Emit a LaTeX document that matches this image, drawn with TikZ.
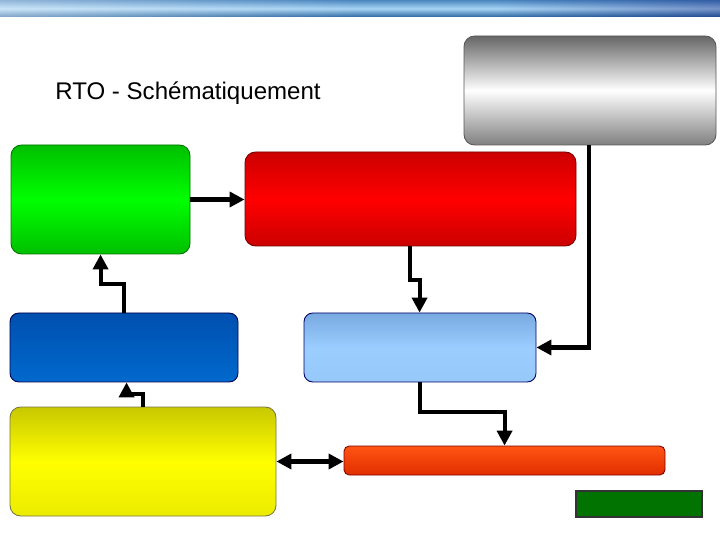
\documentclass[tikz,border=0pt]{standalone}
\usepackage{fontspec}
\setmainfont{Liberation Sans}
\usetikzlibrary{fit,calc,arrows.meta,shadings,fadings}
\definecolor{barTop}{HTML}{4A86C0}
\definecolor{barMid}{HTML}{A8D4F4}
\definecolor{barBot}{HTML}{2A66A0}
\tikzset{
  box/.style={inner sep=0pt, rounded corners=6pt, line width=0.5pt},
  arr/.style={line width=2.3pt, -{Triangle[length=8.5pt,width=8.5pt]}},
  darr/.style={line width=2.3pt, {Triangle[length=8.5pt,width=8.5pt]}-{Triangle[length=8.5pt,width=8.5pt]}},
}
\begin{document}
\begin{tikzpicture}[x=0.02cm,y=-0.02cm]
\useasboundingbox (0,0) rectangle (720,540);
% top bar
\shade[top color=barTop, bottom color=barBot, middle color=barMid] (0,0) rectangle (720,17);
\fill[white, path fading=east, fill opacity=0.4] (0,0) rectangle (360,17);
\fill[black!60!blue, path fading=west, fill opacity=0.3] (500,0) rectangle (720,17);
% title
\node[anchor=base west, inner sep=0pt, font=\fontsize{13.7pt}{16pt}\selectfont] (title) at (55,100) {RTO - Schématiquement};
% boxes
\node[box, fit={(464,36) (716,145)}, draw=black!65, top color=black!60, bottom color=black!50, middle color=white] (gray) {};
\node[box, fit={(11,145) (190,254)}, draw=green!45!black, top color=green!75!black, bottom color=green!75!black, middle color=green] (green) {};
\node[box, fit={(245,152) (576,246)}, draw=red!45!black, top color=red!80!black, bottom color=red!80!black, middle color=red] (red) {};
\node[box, rounded corners=5pt, fit={(10,313) (238,382)}, draw=blue!30!black, top color={rgb,255:red,0;green,80;blue,175}, bottom color={rgb,255:red,0;green,105;blue,205}] (blue) {};
\node[box, rounded corners=5pt, fit={(304,313) (536,382)}, draw=blue!40!black, top color={rgb,255:red,120;green,170;blue,225}, bottom color={rgb,255:red,150;green,200;blue,250}, middle color={rgb,255:red,155;green,205;blue,255}] (lblue) {};
\node[box, fit={(10,407) (276,516)}, draw=yellow!40!black, top color={rgb,255:red,200;green,200;blue,0}, bottom color={rgb,255:red,235;green,235;blue,0}, middle color=yellow] (yellow) {};
\node[box, rounded corners=3pt, fit={(344,446) (665,475)}, draw=red!50!black, top color={rgb,255:red,255;green,85;blue,20}, bottom color={rgb,255:red,225;green,45;blue,0}] (orange) {};
\node[inner sep=0pt, fit={(576,491) (702,517)}, draw=black!80, line width=0.8pt, fill={rgb,255:red,0;green,115;blue,0}] (dgreen) {};
% connectors
\draw[arr] (green.east) -- (green.east -| red.west);
\draw[arr] ($(blue.north west)+(114,0)$) -- ++(0,-29) -| ($(green.south west)+(90,0)$);
\draw[arr] ($(yellow.north west)+(133,0)$) -- ++(0,-13) -| ($(blue.south west)+(117,0)$);
\draw[arr] ($(red.south west)+(165,0)$) -- ++(0,34) -| ($(lblue.north west)+(116,0)$);
\draw[arr] ($(gray.south west)+(125,0)$) |- (lblue.east);
\draw[arr] ($(lblue.south west)+(116,0)$) -- ++(0,30) -| ($(orange.north west)+(161,0)$);
\draw[darr] (yellow.east) -- (yellow.east -| orange.west);
\end{tikzpicture}
\end{document}
